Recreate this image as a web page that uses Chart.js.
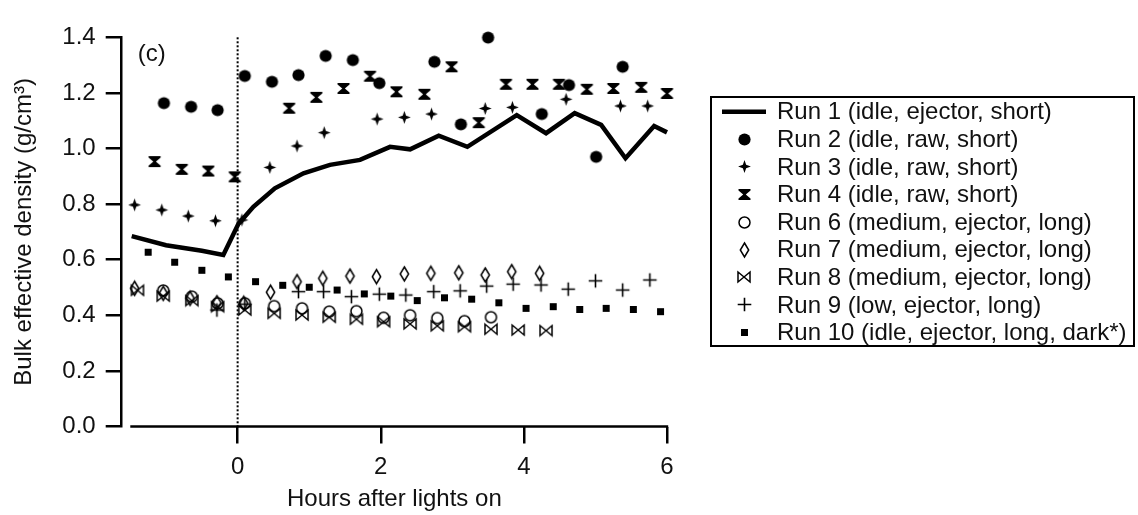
<!DOCTYPE html>
<html><head><meta charset="utf-8">
<script src="https://cdn.jsdelivr.net/npm/chart.js@4.4.1/dist/chart.umd.min.js"></script>
<style>html,body{margin:0;padding:0;background:#fff;}canvas{display:block;}</style>
</head><body>
<canvas id="c" width="1138" height="515"></canvas>
<script>
// ---------------- data ----------------
const seriesLabels = [
  'Run 1 (idle, ejector, short)',
  'Run 2 (idle, raw, short)',
  'Run 3 (idle, raw, short)',
  'Run 4 (idle, raw, short)',
  'Run 6 (medium, ejector, long)',
  'Run 7 (medium, ejector, long)',
  'Run 8 (medium, ejector, long)',
  'Run 9 (low, ejector, long)',
  'Run 10 (idle, ejector, long, dark*)'
];
const run1X = [-1.48, -1.0, -0.5, -0.2, 0.01, 0.22, 0.52, 0.92, 1.29, 1.71, 2.13, 2.41, 2.81, 3.21, 3.90, 4.31, 4.71, 5.08, 5.42, 5.82, 6.0];
const run1Y = [0.685, 0.652, 0.632, 0.617, 0.728, 0.790, 0.857, 0.911, 0.941, 0.959, 1.006, 0.997, 1.046, 1.006, 1.120, 1.055, 1.127, 1.085, 0.965, 1.081, 1.058];
const run2X = [-1.03, -0.65, -0.28, 0.10, 0.48, 0.85, 1.23, 1.61, 1.98, 2.75, 3.12, 3.50, 4.25, 4.63, 5.01, 5.38];
const run2Y = [1.163, 1.150, 1.138, 1.261, 1.240, 1.264, 1.333, 1.318, 1.235, 1.312, 1.087, 1.399, 1.124, 1.228, 0.970, 1.294];
const run3X = [-1.44, -1.06, -0.69, -0.31, 0.06, 0.45, 0.83, 1.21, 1.95, 2.33, 2.71, 3.46, 3.84, 4.59, 5.35, 5.73];
const run3Y = [0.797, 0.779, 0.757, 0.740, 0.743, 0.932, 1.009, 1.057, 1.106, 1.112, 1.124, 1.144, 1.148, 1.177, 1.153, 1.153];
const run4X = [-1.16, -0.78, -0.41, -0.04, 0.72, 1.10, 1.48, 1.85, 2.22, 2.61, 2.99, 3.37, 3.75, 4.12, 4.49, 4.88, 5.25, 5.64, 6.0];
const run4Y = [0.953, 0.925, 0.919, 0.898, 1.145, 1.184, 1.216, 1.260, 1.204, 1.195, 1.294, 1.093, 1.231, 1.231, 1.231, 1.213, 1.216, 1.220, 1.198];
const run6X = [-1.04, -0.64, -0.28, 0.10, 0.51, 0.90, 1.28, 1.66, 2.04, 2.41, 2.79, 3.17, 3.54];
const run6Y = [0.489, 0.467, 0.443, 0.443, 0.433, 0.425, 0.413, 0.415, 0.391, 0.400, 0.390, 0.379, 0.393];
const run7X = [-1.44, -1.04, -0.665, -0.29, 0.085, 0.46, 0.83, 1.19, 1.57, 1.94, 2.33, 2.70, 3.09, 3.46, 3.83, 4.22];
const run7Y = [0.497, 0.479, 0.461, 0.445, 0.443, 0.483, 0.521, 0.533, 0.541, 0.539, 0.549, 0.551, 0.553, 0.545, 0.557, 0.551];
const run8X = [-1.40, -1.04, -0.64, -0.28, 0.10, 0.51, 0.90, 1.28, 1.66, 2.04, 2.41, 2.79, 3.17, 3.54, 3.92, 4.31];
const run8Y = [0.490, 0.469, 0.453, 0.431, 0.419, 0.407, 0.401, 0.393, 0.386, 0.377, 0.369, 0.362, 0.359, 0.350, 0.347, 0.345];
const run9X = [-0.29, 0.10, 0.85, 1.20, 1.59, 1.98, 2.35, 2.74, 3.11, 3.48, 3.85, 4.24, 4.62, 5.00, 5.38, 5.76];
const run9Y = [0.419, 0.440, 0.485, 0.485, 0.467, 0.476, 0.473, 0.485, 0.488, 0.505, 0.512, 0.509, 0.494, 0.524, 0.491, 0.527];
const run10X = [-1.25, -0.88, -0.50, -0.13, 0.25, 0.63, 1.00, 1.39, 1.77, 2.14, 2.51, 2.89, 3.27, 3.65, 4.03, 4.41, 4.78, 5.15, 5.53, 5.91];
const run10Y = [0.627, 0.591, 0.562, 0.538, 0.521, 0.508, 0.501, 0.491, 0.477, 0.469, 0.453, 0.463, 0.458, 0.445, 0.425, 0.431, 0.421, 0.425, 0.421, 0.413];

const xTicks = [0, 2, 4, 6];
const yTicks = [0, 0.2, 0.4, 0.6, 0.8, 1.0, 1.2, 1.4];
const xAxisLabel = 'Hours after lights on';
const yAxisLabel = 'Bulk effective density (g/cm\u00B3)';
const panelLabel = '(c)';
const lightsOnHour = 0;
const xAxisStart = -1.5;

// ---------------- symbols ----------------
function mk(w, h, draw) {
  const c = document.createElement('canvas');
  c.width = w; c.height = h;
  const g = c.getContext('2d');
  g.translate(w / 2, h / 2);
  g.fillStyle = '#000'; g.strokeStyle = '#000';
  draw(g);
  return c;
}
function poly(g, pts) { g.beginPath(); pts.forEach((p, i) => i ? g.lineTo(p[0], p[1]) : g.moveTo(p[0], p[1])); g.closePath(); }
const sym = {
  filledCircle: mk(15, 15, g => { g.beginPath(); g.arc(0, 0, 6.1, 0, Math.PI * 2); g.fill(); }),
  star: mk(15, 15, g => {
    const pts = [];
    for (let k = 0; k < 8; k++) { const a = -Math.PI / 2 + k * Math.PI / 4; const r = k % 2 ? 2.3 : 6.4; pts.push([r * Math.cos(a), r * Math.sin(a)]); }
    poly(g, pts); g.fill();
  }),
  hourglass: mk(15, 15, g => {
    poly(g, [[-6, -5.6], [6, -5.6], [6, -4], [1.3, 0], [6, 4], [6, 5.6], [-6, 5.6], [-6, 4], [-1.3, 0], [-6, -4]]); g.fill();
  }),
  openCircle: mk(15, 15, g => { g.lineWidth = 1.5; g.beginPath(); g.arc(0, 0, 5.5, 0, Math.PI * 2); g.stroke(); }),
  diamond: mk(13, 18, g => { g.lineWidth = 1.5; poly(g, [[0, -7], [4.2, 0], [0, 7], [-4.2, 0]]); g.stroke(); }),
  bowtie: mk(16, 14, g => { g.lineWidth = 1.5; poly(g, [[-6, -5], [6, 5], [6, -5], [-6, 5]]); g.stroke(); }),
  plus: mk(17, 17, g => { g.lineWidth = 1.6; g.beginPath(); g.moveTo(-6.8, 0); g.lineTo(6.8, 0); g.moveTo(0, -6.8); g.lineTo(0, 6.8); g.stroke(); }),
  square: mk(9, 9, g => { g.fillRect(-3.5, -3.5, 7, 7); })
};

const pts = (xs, ys) => xs.map((x, i) => ({ x: x, y: ys[i] }));
const pointSets = [
  [run2X, run2Y, sym.filledCircle],
  [run3X, run3Y, sym.star],
  [run4X, run4Y, sym.hourglass],
  [run6X, run6Y, sym.openCircle],
  [run7X, run7Y, sym.diamond],
  [run8X, run8Y, sym.bowtie],
  [run9X, run9Y, sym.plus],
  [run10X, run10Y, sym.square]
];

const datasets = [{
  label: seriesLabels[0],
  data: pts(run1X, run1Y),
  showLine: true,
  borderColor: '#000',
  borderWidth: 4.5,
  pointRadius: 0,
  tension: 0,
  borderJoinStyle: 'miter',
  clip: false
}].concat(pointSets.map((s, i) => ({
  label: seriesLabels[i + 1],
  data: pts(s[0], s[1]),
  showLine: false,
  pointStyle: s[2],
  pointRadius: 7,
  clip: false
})));

// ---------------- plugins ----------------
const FONT = '"Liberation Sans", Arial, sans-serif';
const FSIZE = 24;
const TEXT = '#111';

const decorPlugin = {
  id: 'decor',
  beforeDatasetsDraw(chart) {
    const { ctx, scales: { x, y } } = chart;
    ctx.save();
    const px = x.getPixelForValue(lightsOnHour);
    ctx.strokeStyle = '#000';
    ctx.lineWidth = 2;
    ctx.setLineDash([2, 2]);
    ctx.beginPath();
    ctx.moveTo(px, y.getPixelForValue(yTicks[yTicks.length - 1]));
    ctx.lineTo(px, y.getPixelForValue(0));
    ctx.stroke();
    ctx.setLineDash([]);
    ctx.lineWidth = 2.5;
    ctx.beginPath();
    const y0 = y.getPixelForValue(0);
    ctx.moveTo(x.getPixelForValue(xAxisStart), y0);
    ctx.lineTo(x.getPixelForValue(xTicks[xTicks.length - 1]) + 1.2, y0);
    ctx.stroke();
    ctx.fillStyle = TEXT;
    ctx.font = FSIZE + 'px ' + FONT;
    ctx.textBaseline = 'middle';
    ctx.textAlign = 'left';
    ctx.fillText(panelLabel, chart.chartArea.left + 16, chart.chartArea.top + 17);
    ctx.restore();
  }
};

const legendPlugin = {
  id: 'boxLegend',
  afterDraw(chart) {
    const ctx = chart.ctx;
    ctx.save();
    const L = 711, T = 97, R = 1134, B = 346;
    ctx.strokeStyle = '#000';
    ctx.lineWidth = 2;
    ctx.strokeRect(L, T, R - L, B - T);
    ctx.font = FSIZE + 'px ' + FONT;
    ctx.fillStyle = TEXT;
    ctx.textBaseline = 'middle';
    ctx.textAlign = 'left';
    chart.data.datasets.forEach((ds, i) => {
      const yy = 111.7 + i * 27.6;
      if (ds.showLine) {
        ctx.strokeStyle = '#000';
        ctx.lineWidth = 4.5;
        ctx.beginPath();
        ctx.moveTo(722, yy);
        ctx.lineTo(766, yy);
        ctx.stroke();
      } else {
        const s = ds.pointStyle;
        ctx.drawImage(s, Math.round(744 - s.width / 2), Math.round(yy - s.height / 2));
      }
      ctx.fillText(ds.label, 777, yy + 1);
    });
    ctx.restore();
  }
};

Chart.defaults.font.family = FONT;
Chart.defaults.font.size = FSIZE;
Chart.defaults.color = TEXT;

new Chart(document.getElementById('c'), {
  type: 'scatter',
  data: { datasets: datasets },
  plugins: [decorPlugin, legendPlugin],
  options: {
    responsive: false,
    devicePixelRatio: 1,
    animation: false,
    events: [],
    layout: { padding: { left: 0, right: 471, top: 37.3, bottom: 0 } },
    plugins: { legend: { display: false }, tooltip: { enabled: false } },
    scales: {
      x: {
        type: 'linear',
        position: 'bottom',
        min: -1.62,
        max: 6,
        afterBuildTicks: s => { s.ticks = xTicks.map(v => ({ value: v })); },
        afterFit: s => { s.height = 88.5; },
        grid: { drawOnChartArea: false, drawTicks: true, tickLength: 17, color: '#000', lineWidth: 2.5 },
        border: { display: false },
        ticks: { padding: 9, color: TEXT, callback: v => String(v) },
        title: { display: true, text: xAxisLabel, color: TEXT, padding: { top: 0, bottom: 1 } }
      },
      y: {
        type: 'linear',
        position: 'left',
        min: 0,
        max: 1.4,
        afterBuildTicks: s => { s.ticks = yTicks.map(v => ({ value: v })); },
        afterFit: s => { s.width = 121.7; },
        grid: { drawOnChartArea: false, drawTicks: true, tickLength: 16, color: '#000', lineWidth: 2.5 },
        border: { display: true, color: '#000', width: 2.5 },
        ticks: { padding: 10, color: TEXT, callback: v => Number(v).toFixed(1) },
        title: { display: true, text: yAxisLabel, color: TEXT, padding: { top: 10, bottom: 0 } }
      }
    }
  }
});
</script>
</body></html>
